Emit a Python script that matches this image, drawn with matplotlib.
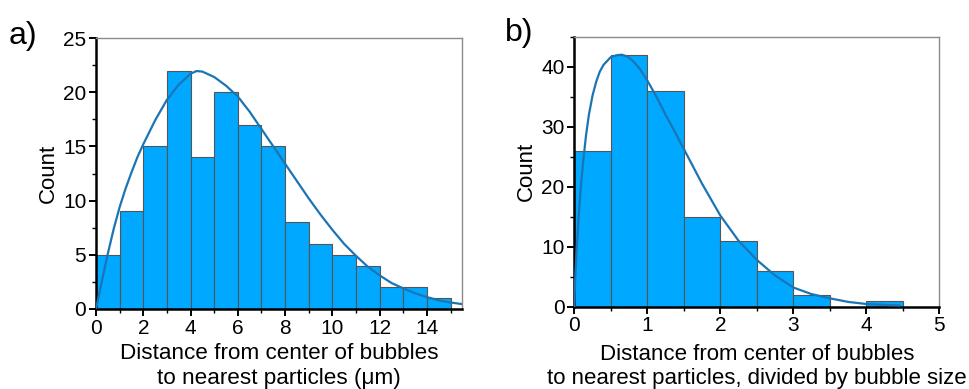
import numpy as np
import matplotlib.pyplot as plt
from matplotlib.ticker import MultipleLocator

plt.rcParams['font.family'] = ['Liberation Sans', 'DejaVu Sans']

# panel a: distance histogram (um), bins of width 1
edges_a = [0, 1, 2, 3, 4, 5, 6, 7, 8, 9, 10, 11, 12, 13, 14, 15]
counts_a = [5, 9, 15, 22, 14, 20, 17, 15, 8, 6, 5, 4, 2, 2, 1]
fit_x_a = [0, 0.25, 0.5, 0.75, 1, 1.25, 1.5, 1.75, 2, 2.5, 3, 3.5, 4, 4.25,
           4.5, 5, 5.5, 6, 6.5, 7, 7.5, 8, 8.5, 9, 9.5, 10, 10.5, 11, 11.5,
           12, 12.5, 13, 13.5, 14, 14.5, 15, 15.5]
fit_y_a = [0, 2.6, 5.1, 7.4, 9.4, 11.1, 12.6, 14.0, 15.2, 17.4, 19.3, 20.7,
           21.7, 21.95, 21.9, 21.4, 20.6, 19.6, 18.2, 16.6, 15.0, 13.4, 11.8,
           10.2, 8.7, 7.3, 6.0, 4.9, 3.9, 3.1, 2.4, 1.9, 1.45, 1.1, 0.8,
           0.6, 0.45]

# panel b: distance divided by bubble size, bins of width 0.5
edges_b = [0, 0.5, 1, 1.5, 2, 2.5, 3, 3.5, 4, 4.5]
counts_b = [26, 42, 36, 15, 11, 6, 2, 0, 1]
fit_x_b = [0, 0.01, 0.03, 0.06, 0.09, 0.12, 0.16, 0.2, 0.25, 0.3, 0.35, 0.4,
           0.5, 0.575, 0.65, 0.725, 0.8, 0.9, 1.0, 1.125, 1.25, 1.375, 1.5,
           1.75, 2.0, 2.25, 2.5, 2.75, 3.0, 3.25, 3.5, 3.75, 4.0, 4.25, 4.45]
fit_y_b = [0, 4, 9, 15, 20, 24, 28.5, 32, 35.2, 37.5, 39.2, 40.3, 41.6, 41.9,
           42.0, 41.7, 41.0, 39.6, 37.7, 35.0, 32.0, 29.2, 26.3, 20.5, 15.2,
           11.0, 7.8, 5.2, 3.2, 2.1, 1.4, 0.8, 0.45, 0.3, 0.2]

bar_color = '#00a8ff'
edge_color = '#555555'
fit_color = '#1b75b5'

W, H = 969, 389
fig = plt.figure(figsize=(W / 100, H / 100), dpi=100)


def make_axes(left, top, right, bottom):
    return fig.add_axes([left / W, 1 - bottom / H, (right - left) / W,
                         (bottom - top) / H])


def style_axes(ax):
    for side in ['left', 'bottom']:
        ax.spines[side].set_linewidth(1.8)
        ax.spines[side].set_color('black')
    for side in ['top', 'right']:
        ax.spines[side].set_linewidth(1.0)
        ax.spines[side].set_color('#8a8a8a')
    ax.tick_params(which='major', direction='out', length=5, width=1.4,
                   labelsize=15, pad=2, top=False, right=False)
    ax.tick_params(which='minor', direction='out', length=3, width=1.0,
                   top=False, right=False)
    ax.set_ylabel('Count', fontsize=16, labelpad=3)


def draw_hist(ax, edges, counts, fx, fy):
    lefts = edges[:-1]
    widths = np.diff(edges)
    ax.bar(lefts, counts, width=widths, align='edge', color=bar_color,
           edgecolor=edge_color, linewidth=0.8, zorder=2)
    ax.plot(fx, fy, color=fit_color, linewidth=1.6, zorder=3)


ax1 = make_axes(96, 38, 462.4, 309)
draw_hist(ax1, edges_a, counts_a, fit_x_a, fit_y_a)
ax1.set_xlim(0, 15.5)
ax1.set_ylim(0, 25)
ax1.xaxis.set_major_locator(MultipleLocator(2))
ax1.xaxis.set_minor_locator(MultipleLocator(1))
ax1.yaxis.set_major_locator(MultipleLocator(5))
ax1.yaxis.set_minor_locator(MultipleLocator(2.5))
style_axes(ax1)
ax1.set_xlabel('Distance from center of bubbles\nto nearest particles (\u03bcm)',
               fontsize=16.2, linespacing=1.22, labelpad=4)

ax2 = make_axes(574.3, 36.7, 939.3, 306.7)
draw_hist(ax2, edges_b, counts_b, fit_x_b, fit_y_b)
ax2.set_xlim(0, 5)
ax2.set_ylim(0, 45)
ax2.xaxis.set_major_locator(MultipleLocator(1))
ax2.xaxis.set_minor_locator(MultipleLocator(0.5))
ax2.yaxis.set_major_locator(MultipleLocator(10))
ax2.yaxis.set_minor_locator(MultipleLocator(5))
style_axes(ax2)
ax2.set_xlabel('Distance from center of bubbles\n'
               'to nearest particles, divided by bubble size',
               fontsize=16, linespacing=1.22, labelpad=6)

fig.text(9 / W, 1 - 44 / H, 'a)', fontsize=23)
fig.text(505 / W, 1 - 41 / H, 'b)', fontsize=23)

fig.savefig('out.png', dpi=100)
